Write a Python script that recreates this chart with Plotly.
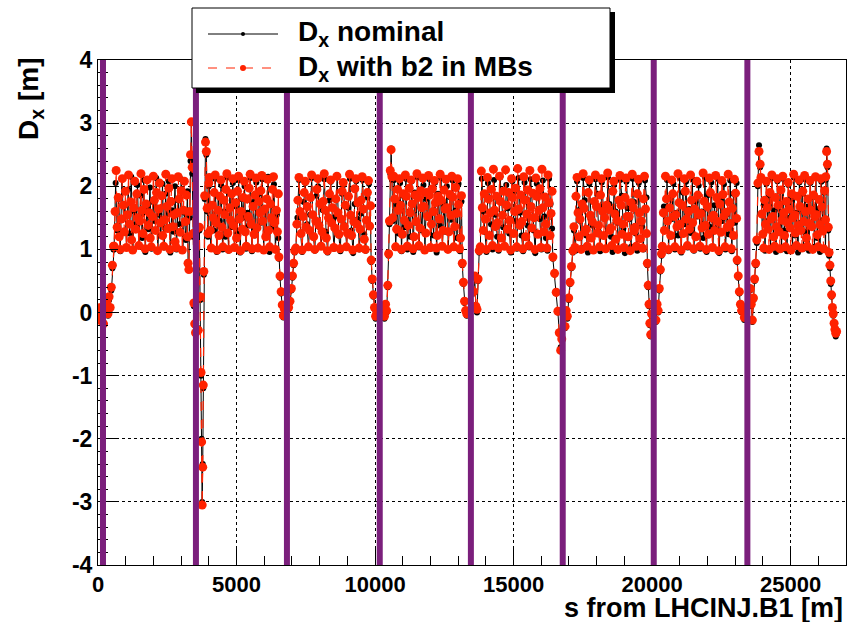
import numpy as np
import plotly.graph_objects as go

# ---------------- data (s in m, Dx in m) ----------------
# positions of the vertical (purple) markers
marker_s = [180, 3535, 6820, 10170, 13460, 16775, 20060, 23440]

# arcs: sampled equally between start and end
arc_start = [580, 4020, 7140, 10640, 13800, 17180, 20370, 23930]
arc_end = [3230, 6510, 9840, 13120, 16390, 19800, 23050, 26260]

arc_nom = [
    [1.00, 2.05, 1.30, 1.80, 0.97, 2.12, 1.50, 1.70, 1.02, 1.95, 1.25, 2.15, 0.98, 1.60, 1.40, 2.02, 1.05, 1.85, 1.18, 2.10, 0.96, 1.65, 1.32, 1.98, 1.01, 1.75, 1.45, 2.13, 0.99, 1.55, 1.22, 2.04, 1.03, 1.88, 1.35, 2.08, 0.95, 1.62, 1.28, 2.00, 1.00, 1.78, 1.40, 2.11, 0.98, 1.58, 1.15, 1.92],
    [2.08, 1.02, 1.72, 1.30, 2.12, 0.96, 1.85, 1.45, 2.02, 1.00, 1.60, 1.20, 2.14, 0.98, 1.90, 1.35, 2.05, 1.04, 1.68, 1.25, 2.10, 0.95, 1.80, 1.50, 2.00, 1.01, 1.58, 1.38, 2.13, 0.97, 1.75, 1.22, 2.06, 1.03, 1.88, 1.42, 2.11, 0.99, 1.64, 1.28, 2.15, 0.96, 1.70, 1.33, 2.03, 1.00, 1.55, 1.18],
    [1.00, 1.50, 2.10, 1.25, 0.96, 1.75, 2.05, 1.40, 1.02, 1.55, 2.13, 1.20, 0.98, 1.85, 2.00, 1.35, 1.04, 1.62, 2.11, 1.28, 0.95, 1.78, 2.07, 1.45, 1.01, 1.52, 2.14, 1.22, 0.97, 1.88, 2.02, 1.38, 1.03, 1.66, 2.12, 1.30, 0.94, 1.72, 2.08, 1.48, 1.00, 1.57, 2.10, 1.24, 0.98, 1.82, 2.04, 1.36],
    [1.45, 2.10, 1.02, 1.70, 1.25, 2.05, 0.97, 1.85, 1.35, 2.12, 1.00, 1.60, 1.20, 2.08, 0.96, 1.90, 1.42, 2.14, 1.03, 1.66, 1.30, 2.02, 0.98, 1.80, 1.50, 2.11, 1.01, 1.58, 1.22, 2.06, 0.95, 1.88, 1.38, 2.13, 1.04, 1.72, 1.28, 2.00, 0.99, 1.83, 1.47, 2.09, 1.02, 1.62, 1.18, 2.04, 0.97, 1.76],
    [1.02, 2.12, 1.60, 1.28, 0.96, 2.05, 1.82, 1.40, 1.00, 2.10, 1.55, 1.20, 0.98, 2.14, 1.75, 1.35, 1.04, 2.02, 1.65, 1.25, 0.95, 2.08, 1.90, 1.45, 1.01, 2.13, 1.58, 1.22, 0.97, 2.06, 1.80, 1.38, 1.03, 2.11, 1.68, 1.30, 0.94, 2.04, 1.86, 1.48, 1.00, 2.09, 1.52, 1.18, 0.98, 2.12, 1.72, 1.33],
    [1.30, 0.98, 2.08, 1.62, 1.45, 1.02, 2.13, 1.78, 1.22, 0.95, 2.04, 1.55, 1.38, 1.00, 2.11, 1.88, 1.28, 0.97, 2.06, 1.68, 1.50, 1.03, 2.14, 1.72, 1.20, 0.96, 2.02, 1.60, 1.42, 1.01, 2.10, 1.85, 1.33, 0.94, 2.07, 1.65, 1.48, 1.04, 2.12, 1.75, 1.25, 0.98, 2.05, 1.58, 1.36, 1.00, 2.09, 1.82],
    [1.02, 1.68, 1.30, 2.10, 0.97, 1.82, 1.48, 2.04, 1.00, 1.58, 1.22, 2.13, 0.95, 1.90, 1.40, 2.07, 1.03, 1.64, 1.26, 2.11, 0.98, 1.76, 1.52, 2.01, 1.01, 1.60, 1.18, 2.14, 0.96, 1.86, 1.36, 2.06, 1.04, 1.70, 1.32, 2.12, 0.94, 1.80, 1.45, 2.03, 1.00, 1.56, 1.24, 2.09, 0.97, 1.88, 1.42, 2.05],
    [2.10, 1.25, 1.70, 0.98, 2.04, 1.45, 1.85, 1.02, 2.13, 1.20, 1.62, 0.96, 2.08, 1.38, 1.92, 1.00, 2.12, 1.30, 1.75, 0.97, 2.02, 1.50, 1.80, 1.03, 2.14, 1.22, 1.58, 0.95, 2.06, 1.42, 1.88, 1.01, 2.11, 1.28, 1.68, 0.98, 2.05, 1.35, 1.83, 1.04, 2.13, 1.18, 1.64, 0.96, 2.07, 1.46, 1.90, 1.00],
]

arc_b2 = [
    [1.05, 1.60, 2.25, 1.35, 1.82, 1.20, 1.00, 1.48, 2.12, 1.70, 1.28, 1.92,
     1.03, 1.55, 2.18, 1.40, 1.75, 1.15, 0.99, 1.66, 2.08, 1.32, 1.88, 1.50,
     1.06, 1.45, 2.20, 1.62, 1.25, 1.95, 1.01, 1.72, 2.10, 1.38, 1.58, 1.18,
     1.04, 1.52, 2.16, 1.78, 1.30, 1.90, 0.98, 1.64, 2.05, 1.42, 1.85, 1.22,
     1.05, 1.47, 2.19, 1.68, 1.33, 1.97, 1.00, 1.76, 2.12, 1.36, 1.55, 1.12,
     1.03, 1.58, 2.15, 1.80, 1.27, 1.93, 0.99, 1.62, 2.08, 1.44, 1.86, 1.20],
    [2.14, 1.30, 1.02, 1.70, 1.50, 1.90, 2.18, 1.42, 0.99, 1.62, 1.22, 1.84,
     2.10, 1.35, 1.04, 1.78, 1.55, 1.95, 2.20, 1.26, 1.00, 1.66, 1.46, 1.88,
     2.12, 1.38, 1.03, 1.74, 1.18, 1.92, 2.16, 1.48, 0.98, 1.60, 1.32, 1.82,
     2.08, 1.28, 1.05, 1.80, 1.52, 1.97, 2.19, 1.40, 1.01, 1.68, 1.24, 1.86,
     2.13, 1.34, 1.02, 1.76, 1.58, 1.93, 2.17, 1.45, 0.99, 1.64, 1.20, 1.80,
     2.11, 1.30, 1.04, 1.72, 1.50, 1.95, 2.15, 1.42, 1.00, 1.62, 1.28, 1.88],
    [1.02, 1.40, 1.78, 2.14, 1.60, 1.25, 0.99, 1.52, 1.90, 2.08, 1.35, 1.68,
     1.04, 1.30, 1.82, 2.18, 1.55, 1.20, 1.00, 1.45, 1.95, 2.12, 1.38, 1.72,
     1.05, 1.28, 1.76, 2.20, 1.62, 1.18, 0.98, 1.50, 1.88, 2.10, 1.42, 1.66,
     1.03, 1.34, 1.80, 2.16, 1.58, 1.24, 1.01, 1.48, 1.92, 2.06, 1.36, 1.70,
     1.04, 1.26, 1.84, 2.19, 1.54, 1.22, 0.99, 1.44, 1.96, 2.12, 1.40, 1.74,
     1.02, 1.32, 1.78, 2.15, 1.64, 1.16, 1.00, 1.46, 1.90, 2.09, 1.37, 1.69],
    [1.50, 2.16, 1.80, 1.04, 1.32, 1.95, 1.62, 2.12, 1.70, 1.00, 1.24, 1.88,
     1.46, 2.18, 1.84, 1.05, 1.38, 1.97, 1.58, 2.10, 1.72, 1.01, 1.20, 1.86,
     1.44, 2.20, 1.82, 1.06, 1.34, 1.93, 1.66, 2.13, 1.68, 0.99, 1.26, 1.90,
     1.52, 2.17, 1.86, 1.03, 1.40, 1.96, 1.60, 2.09, 1.74, 1.02, 1.22, 1.84,
     1.48, 2.19, 1.78, 1.05, 1.30, 1.94, 1.64, 2.11, 1.66, 1.00, 1.28, 1.87,
     1.54, 2.16, 1.83, 1.04, 1.36, 1.98, 1.57, 2.12, 1.71, 1.01, 1.18, 1.85],
    [1.04, 2.24, 1.66, 1.30, 1.88, 1.48, 1.00, 2.14, 1.80, 1.22, 1.58, 1.95,
     1.06, 2.27, 1.62, 1.36, 1.84, 1.42, 1.02, 2.16, 1.76, 1.18, 1.54, 1.92,
     1.05, 2.26, 1.70, 1.32, 1.90, 1.46, 0.99, 2.12, 1.82, 1.25, 1.60, 1.97,
     1.04, 2.28, 1.64, 1.38, 1.86, 1.44, 1.01, 2.15, 1.78, 1.20, 1.56, 1.94,
     1.06, 2.25, 1.68, 1.34, 1.89, 1.50, 1.00, 2.13, 1.84, 1.24, 1.62, 1.96,
     1.03, 2.27, 1.66, 1.28, 1.83, 1.40, 1.02, 2.18, 1.74, 1.22, 1.57, 1.92],
    [1.36, 1.03, 1.84, 2.14, 1.58, 1.20, 1.48, 1.00, 1.72, 2.20, 1.65, 1.28,
     1.32, 1.05, 1.90, 2.10, 1.54, 1.18, 1.44, 0.99, 1.76, 2.18, 1.68, 1.26,
     1.38, 1.04, 1.86, 2.12, 1.60, 1.22, 1.50, 1.01, 1.70, 2.21, 1.63, 1.30,
     1.34, 1.06, 1.92, 2.08, 1.56, 1.16, 1.46, 1.00, 1.78, 2.17, 1.70, 1.24,
     1.40, 1.03, 1.82, 2.13, 1.52, 1.20, 1.52, 0.98, 1.74, 2.19, 1.66, 1.29,
     1.35, 1.05, 1.88, 2.11, 1.58, 1.17, 1.45, 1.02, 1.80, 2.16, 1.64, 1.25],
    [1.05, 1.58, 1.30, 2.16, 1.80, 1.45, 1.00, 1.66, 1.22, 2.10, 1.88, 1.52,
     1.04, 1.55, 1.36, 2.20, 1.74, 1.40, 0.99, 1.70, 1.25, 2.12, 1.92, 1.48,
     1.06, 1.60, 1.32, 2.18, 1.78, 1.42, 1.01, 1.64, 1.20, 2.08, 1.86, 1.55,
     1.05, 1.57, 1.34, 2.21, 1.76, 1.38, 1.00, 1.68, 1.24, 2.13, 1.90, 1.50,
     1.03, 1.54, 1.30, 2.17, 1.82, 1.44, 0.98, 1.72, 1.27, 2.09, 1.87, 1.53,
     1.04, 1.59, 1.35, 2.19, 1.75, 1.41, 1.01, 1.65, 1.22, 2.11, 1.89, 1.49],
    [2.14, 1.56, 1.24, 1.02, 1.78, 1.40, 2.08, 1.66, 1.32, 1.00, 1.90, 1.48,
     2.18, 1.52, 1.20, 1.05, 1.82, 1.36, 2.12, 1.70, 1.28, 1.01, 1.94, 1.46,
     2.16, 1.58, 1.22, 1.04, 1.76, 1.42, 2.06, 1.64, 1.34, 0.99, 1.88, 1.50,
     2.19, 1.54, 1.26, 1.06, 1.84, 1.38, 2.10, 1.68, 1.30, 1.02, 1.92, 1.44,
     2.17, 1.60, 1.18, 1.05, 1.80, 1.41, 2.09, 1.62, 1.36, 1.00, 1.86, 1.52,
     2.15, 1.55, 1.23, 1.04, 1.79, 1.39, 2.12, 1.67, 1.29, 1.01, 1.93, 1.47],
]

# insertion regions (explicit s, Dx)
ir_s = [
    [0, 40, 80, 120, 160, 200, 260, 320, 360, 400, 440, 480, 520, 560],
    [3250, 3280, 3310, 3340, 3370, 3400, 3430, 3460, 3490, 3520, 3620, 3660, 3690, 3720, 3740, 3760, 3780, 3800, 3820, 3850, 3880, 3910, 3940, 3970, 4000],
    [6530, 6570, 6610, 6650, 6690, 6730, 6770, 6880, 6930, 6980, 7020, 7060, 7100],
    [9860, 9900, 9940, 9980, 10020, 10060, 10300, 10340, 10380, 10420, 10460, 10490, 10520, 10550, 10580, 10610],
    [13150, 13190, 13230, 13270, 13310, 13560, 13600, 13640, 13680, 13720, 13760],
    [16420, 16480, 16540, 16600, 16650, 16700, 16740, 16860, 16900, 16940, 16990, 17040, 17090, 17140],
    [19830, 19860, 19890, 19920, 19950, 19980, 20140, 20180, 20220, 20260, 20300, 20340],
    [23070, 23110, 23150, 23190, 23230, 23280, 23330, 23540, 23580, 23620, 23660, 23700, 23740, 23780, 23820, 23860, 23900],
    [26270, 26300, 26330, 26360, 26390, 26420, 26450, 26480, 26510, 26540, 26570, 26600, 26630, 26660],
]
ir_nom = [
    [0.00, -0.10, 0.05, -0.08, 0.00, -0.15, 0.05, 0.15, -0.05, 0.20, 0.05, 0.35, 0.70, 1.00],
    [0.80, 0.70, 1.50, 2.40, 3.00, 2.20, 1.20, 0.10, -0.20, -0.30, -0.25, 1.30, 0.20, -1.00, -2.00, -3.00, -2.40, -1.20, 0.60, 1.80, 2.75, 2.50, 1.60, 1.20, 2.00],
    [0.85, 0.55, 0.30, 0.10, -0.08, 0.02, 0.08, 0.05, 0.15, 0.35, 0.55, 0.75, 0.95],
    [0.80, 0.50, 0.25, 0.05, -0.10, -0.05, 0.05, -0.10, 0.10, 0.00, 0.40, 0.90, 1.40, 2.20, 2.60, 2.10],
    [0.75, 0.45, 0.15, 0.00, -0.05, 0.30, 0.55, 0.05, 0.00, 0.50, 0.95],
    [0.85, 0.60, 0.30, 0.00, -0.30, -0.55, -0.40, -0.25, 0.00, -0.10, 0.20, 0.45, 0.70, 0.95],
    [0.75, 0.40, 0.10, -0.20, -0.38, -0.05, -0.15, 0.10, 0.00, 0.35, 0.65, 0.90],
    [0.80, 0.55, 0.30, 0.10, 0.00, 0.05, -0.12, 0.35, 0.10, -0.15, 0.20, 0.50, 0.75, 1.10, 2.00, 2.65, 2.30],
    [2.10, 2.60, 2.30, 1.30, 0.90, 0.70, 0.45, 0.25, 0.05, -0.05, -0.20, -0.30, -0.38, -0.35],
]
ir_b2 = [
    [0.02, -0.12, 0.08, -0.05, 0.03, -0.18, 0.10, 0.18, -0.02, 0.25, 0.08, 0.40, 0.75, 1.05],
    [0.78, 0.68, 1.60, 2.50, 3.02, 2.30, 1.25, 0.15, -0.18, -0.32, -0.28, 1.35, 0.25, -0.95, -2.05, -3.05, -2.45, -1.15, 0.65, 1.85, 2.70, 2.55, 1.65, 1.25, 2.05],
    [0.88, 0.58, 0.33, 0.12, -0.05, 0.05, 0.10, 0.08, 0.18, 0.38, 0.58, 0.78, 0.98],
    [0.83, 0.53, 0.28, 0.08, -0.06, -0.02, 0.08, -0.06, 0.13, 0.03, 0.43, 0.93, 1.45, 2.25, 2.58, 2.15],
    [0.78, 0.48, 0.18, 0.03, -0.02, 0.33, 0.58, 0.10, 0.05, 0.53, 0.98],
    [0.88, 0.62, 0.32, 0.02, -0.32, -0.60, -0.42, -0.22, 0.03, -0.06, 0.23, 0.48, 0.73, 0.98],
    [0.78, 0.43, 0.13, -0.17, -0.35, -0.02, -0.12, 0.13, 0.03, 0.38, 0.68, 0.93],
    [0.83, 0.58, 0.33, 0.13, 0.03, 0.08, -0.08, 0.38, 0.13, -0.12, 0.23, 0.53, 0.78, 1.15, 2.05, 2.55, 2.35],
    [2.15, 2.55, 2.35, 1.35, 0.95, 0.75, 0.50, 0.28, 0.08, -0.02, -0.17, -0.27, -0.33, -0.30],
]

x_ticks = [0, 5000, 10000, 15000, 20000, 25000]
y_ticks = [-4, -3, -2, -1, 0, 1, 2, 3, 4]


def build(ir_vals, arc_vals):
    s_all, d_all = [], []
    for i in range(len(arc_vals)):
        s_all += list(ir_s[i]); d_all += list(ir_vals[i])
        s_all += list(np.linspace(arc_start[i], arc_end[i], len(arc_vals[i])))
        d_all += list(arc_vals[i])
    s_all += list(ir_s[-1]); d_all += list(ir_vals[-1])
    return s_all, d_all


s_nom, d_nom = build(ir_nom, arc_nom)
s_b2, d_b2 = build(ir_b2, arc_b2)

RED = "#ff2200"
PURPLE = "#7b1f7c"
FONT = "Liberation Sans"

fig = go.Figure()
fig.add_trace(go.Scatter(x=s_nom, y=d_nom, mode="lines+markers",
                         line=dict(color="black", width=1),
                         marker=dict(color="black", size=6), showlegend=False))
fig.add_trace(go.Scatter(x=s_b2, y=d_b2, mode="lines+markers",
                         line=dict(color=RED, width=1.2, dash="dash"),
                         marker=dict(color=RED, size=9), showlegend=False))

for s in marker_s:
    fig.add_shape(type="line", x0=s, x1=s, y0=0, y1=1, xref="x", yref="paper",
                  line=dict(color=PURPLE, width=6), layer="above")

# layout geometry (pixels)
L, R, T, B = 98, 2, 60, 57
W, H = 848, 622
PW, PH = W - L - R, H - T - B


def px(x):
    return (x - L) / PW


def py(y):
    return (H - B - y) / PH


# legend box with shadow
fig.add_shape(type="rect", xref="paper", yref="paper", x0=px(196), x1=px(615), y0=py(93), y1=py(12),
              fillcolor="black", line=dict(width=0), layer="above")
fig.add_shape(type="rect", xref="paper", yref="paper", x0=px(192), x1=px(610), y0=py(88), y1=py(8),
              fillcolor="white", line=dict(color="black", width=1), layer="above")
fig.add_shape(type="line", xref="paper", yref="paper", x0=px(208), x1=px(278), y0=py(34), y1=py(34),
              line=dict(color="black", width=1), layer="above")
fig.add_shape(type="circle", xref="paper", yref="paper", x0=px(241), x1=px(245), y0=py(36), y1=py(32),
              fillcolor="black", line=dict(color="black", width=0), layer="above")
fig.add_shape(type="line", xref="paper", yref="paper", x0=px(208), x1=px(278), y0=py(68), y1=py(68),
              line=dict(color=RED, width=1, dash="dash"), layer="above")
fig.add_shape(type="circle", xref="paper", yref="paper", x0=px(240), x1=px(246), y0=py(71), y1=py(65),
              fillcolor=RED, line=dict(color=RED, width=0), layer="above")

fig.add_annotation(text="D<sub>x</sub> nominal", xref="paper", yref="paper", x=px(296), y=py(34),
                   xanchor="left", yanchor="middle", showarrow=False,
                   font=dict(family=FONT, size=28, color="black", weight="bold"))
fig.add_annotation(text="D<sub>x</sub> with b2 in MBs", xref="paper", yref="paper", x=px(296), y=py(68),
                   xanchor="left", yanchor="middle", showarrow=False,
                   font=dict(family=FONT, size=28, color="black", weight="bold"))

# axis titles
fig.add_annotation(text="s from LHCINJ.B1 [m]", xref="paper", yref="paper", x=px(845), y=py(608),
                   xanchor="right", yanchor="middle", showarrow=False,
                   font=dict(family=FONT, size=27, color="black", weight="bold"))
fig.add_annotation(text="D<sub>x</sub> [m]", xref="paper", yref="paper", x=px(30), y=py(56),
                   xanchor="center", yanchor="top", textangle=-90, showarrow=False,
                   font=dict(family=FONT, size=28, color="black", weight="bold"))

fig.update_layout(
    width=W, height=H,
    margin=dict(l=L, r=R, t=T, b=B),
    paper_bgcolor="white", plot_bgcolor="white",
    showlegend=False,
    xaxis=dict(range=[0, 27000], tickvals=x_ticks, ticktext=[str(v) for v in x_ticks],
               ticks="inside", ticklen=18, tickcolor="black", tickwidth=1,
               minor=dict(dtick=1000, ticks="inside", ticklen=9, tickcolor="black", showgrid=False),
               showgrid=True, gridcolor="black", griddash="dot", gridwidth=1,
               showline=True, linecolor="black", linewidth=1, mirror=True, zeroline=False,
               tickfont=dict(family=FONT, size=22, color="black", weight="bold")),
    yaxis=dict(range=[-4, 4], tickvals=y_ticks, ticktext=[str(v) for v in y_ticks],
               ticks="inside", ticklen=20, tickcolor="black", tickwidth=1,
               minor=dict(dtick=0.2, ticks="inside", ticklen=10, tickcolor="black", showgrid=False),
               showgrid=True, gridcolor="black", griddash="dot", gridwidth=1,
               showline=True, linecolor="black", linewidth=1, mirror=True, zeroline=False,
               tickfont=dict(family=FONT, size=23, color="black", weight="bold")),
)

fig.write_html("out.html", config={"displayModeBar": False},
               post_script="document.body.style.margin='0px';document.body.style.overflow='hidden';")
